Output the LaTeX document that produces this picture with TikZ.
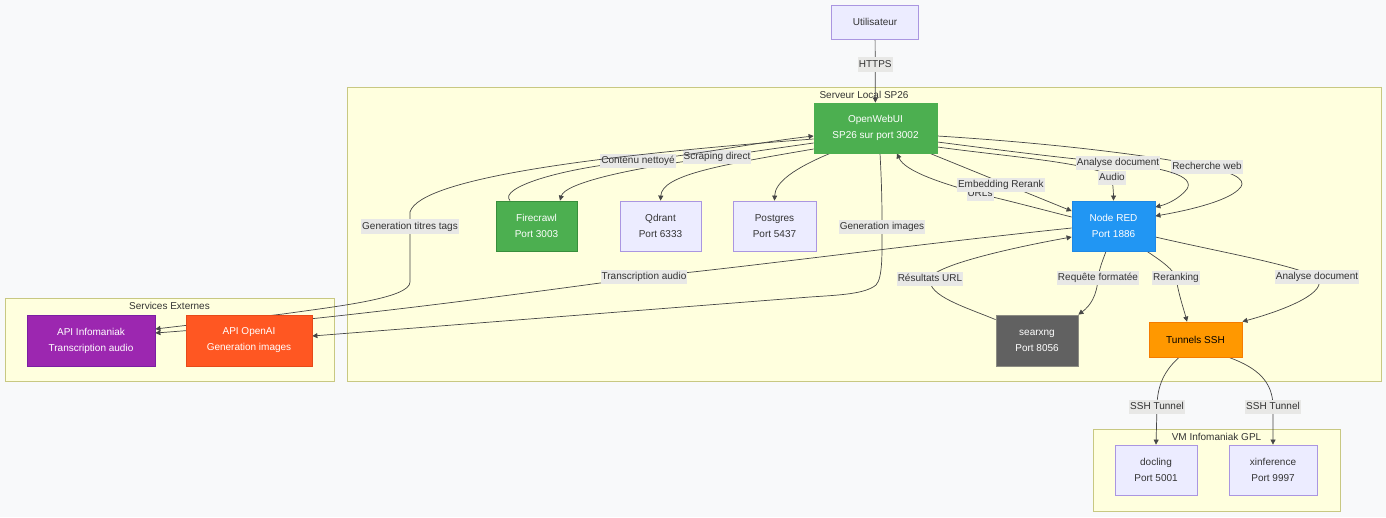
\documentclass[tikz,border=0pt]{standalone}
\usepackage{fontspec}
\setmainfont{Liberation Sans}
\usetikzlibrary{arrows.meta,positioning}
\definecolor{pagebg}{RGB}{248,249,250}
\definecolor{clfill}{RGB}{255,255,222}
\definecolor{cldraw}{RGB}{200,200,130}
\definecolor{dfill}{RGB}{236,236,255}
\definecolor{ddraw}{RGB}{170,150,225}
\definecolor{owgreen}{RGB}{76,175,80}
\definecolor{fcdraw}{RGB}{56,142,60}
\definecolor{nrblue}{RGB}{33,150,243}
\definecolor{nrdraw}{RGB}{30,136,229}
\definecolor{sxgrey}{RGB}{97,97,97}
\definecolor{sxdraw}{RGB}{140,140,130}
\definecolor{sshorange}{RGB}{255,152,0}
\definecolor{sshdraw}{RGB}{245,124,0}
\definecolor{infpurple}{RGB}{156,39,176}
\definecolor{infdraw}{RGB}{123,31,162}
\definecolor{oaired}{RGB}{255,87,34}
\definecolor{oaidraw}{RGB}{230,74,25}
\definecolor{lblfill}{RGB}{232,232,230}
\definecolor{edgecol}{RGB}{70,70,70}
\definecolor{txt}{RGB}{51,51,51}
\pgfdeclarelayer{bg}
\pgfdeclarelayer{edges}
\pgfsetlayers{bg,edges,main}

\begin{document}
\begin{tikzpicture}[
    x=1pt, y=-1pt,
    box/.style={rectangle, draw, line width=0.8pt, align=center, inner sep=0pt,
                font=\fontsize{10}{16}\selectfont},
    plain/.style={box, fill=dfill, draw=ddraw, text=txt},
    owbox/.style={box, fill=owgreen, draw=owgreen, text=white},
    fcbox/.style={box, fill=owgreen, draw=fcdraw, text=white},
    nrbox/.style={box, fill=nrblue, draw=nrdraw, text=white},
    sxbox/.style={box, fill=sxgrey, draw=sxdraw, text=white},
    sshbox/.style={box, fill=sshorange, draw=sshdraw, text=black},
    infbox/.style={box, fill=infpurple, draw=infdraw, text=white},
    oaibox/.style={box, fill=oaired, draw=oaidraw, text=white},
    cluster/.style={rectangle, draw=cldraw, fill=clfill, line width=0.8pt, inner sep=0pt},
    ctitle/.style={font=\fontsize{10}{12}\selectfont, text=txt, inner sep=0pt},
    conn/.style={draw=edgecol, line width=0.7pt, -{Triangle[length=5pt,width=5pt]}},
    elabel/.style={fill=lblfill, text=txt, font=\fontsize{10}{12}\selectfont,
                   inner xsep=1pt, inner ysep=2.5pt, text height=7.5pt, text depth=2pt}
  ]
    \useasboundingbox (0,0) rectangle (1386,517);

    % Clusters
    \begin{pgfonlayer}{bg}
    \fill[pagebg] (0,0) rectangle (1386,517);
    \node[cluster, minimum width=1034pt, minimum height=294pt] (srv) at (864,234) {};
    \node[ctitle, below=4pt of srv.north] {Serveur Local SP26};
    \node[cluster, minimum width=329pt, minimum height=83pt] (ext) at (169.5,339.5) {};
    \node[ctitle, below=4pt of ext.north] {Services Externes};
    \node[cluster, minimum width=247pt, minimum height=82pt] (vm) at (1216.5,470) {};
    \node[ctitle, below=4pt of vm.north] {VM Infomaniak GPL};
    \end{pgfonlayer}

    % Nodes
    \node[plain, minimum width=87pt, minimum height=34pt] (user) at (875,22) {Utilisateur};
    \node[owbox, minimum width=123pt, minimum height=50pt] (ow) at (875.5,128) {OpenWebUI\\SP26 sur port 3002};
    \node[fcbox, minimum width=81pt, minimum height=50pt] (fc) at (536.5,226) {Firecrawl\\Port 3003};
    \node[plain, minimum width=81pt, minimum height=50pt] (qd) at (660.5,226) {Qdrant\\Port 6333};
    \node[plain, minimum width=83pt, minimum height=50pt] (pg) at (774.5,226) {Postgres\\Port 5437};
    \node[nrbox, minimum width=83pt, minimum height=50pt] (nr) at (1113.5,226) {Node RED\\Port 1886};
    \node[sxbox, minimum width=82pt, minimum height=51pt] (sx) at (1037,340.5) {searxng\\Port 8056};
    \node[sshbox, minimum width=93pt, minimum height=35pt] (ssh) at (1195.5,339.5) {Tunnels SSH};
    \node[infbox, minimum width=128pt, minimum height=51pt] (inf) at (91,340.5) {API Infomaniak\\Transcription audio};
    \node[oaibox, minimum width=126pt, minimum height=51pt] (oai) at (249,340.5) {API OpenAI\\Generation images};
    \node[plain, minimum width=82pt, minimum height=50pt] (doc) at (1156,470) {docling\\Port 5001};
    \node[plain, minimum width=88pt, minimum height=50pt] (xin) at (1273,470) {xinference\\Port 9997};

    % Connectors
    \begin{pgfonlayer}{edges}
    \draw[conn] (user) -- node[elabel, pos=0.4] {HTTPS} (ow);

    % OpenWebUI <-> local services
    \draw[conn] ([yshift=-21pt]ow.west) .. controls (720,165) and (662,175) .. (qd.north);
    \draw[conn] ([xshift=-45.5pt]ow.south) .. controls (795,168) and (775,182) .. (pg.north);
    \draw[conn] ([yshift=-15pt]ow.west) .. controls (785,147) and (750,152) .. (717,157)
      node[elabel] {Scraping direct} .. controls (630,168) and (565,183) .. ([xshift=23.5pt]fc.north);
    \draw[conn] ([xshift=-26.5pt]fc.north) .. controls (498,188) and (560,168) .. (638,161)
      node[elabel] {Contenu nettoyé} .. controls (700,154) and (760,142) .. ([yshift=-8pt]ow.west);

    % OpenWebUI -> external services
    \draw[conn] ([yshift=-11pt]ow.west) .. controls (600,155) and (420,178) .. (410,212)
      -- node[elabel, pos=0.21] {Generation titres tags} (410,282)
      .. controls (410,298) and (340,306) .. (283,314) -- ([yshift=11.5pt]inf.east);
    \draw[conn] ([xshift=4.5pt]ow.south) .. controls (882,190) and (882,210) .. (882,227)
      node[elabel] {Generation images} .. controls (882,250) and (883,278) .. (876,285)
      .. controls (865,294) and (840,295) .. (810,297) -- ([yshift=4.5pt]oai.east);
    \draw[conn] ([yshift=-2pt]nr.west) .. controls (900,246) and (740,268) .. (644,277)
      node[elabel] {Transcription audio} .. controls (520,294) and (330,320) .. ([yshift=7.5pt]inf.east);

    % OpenWebUI <-> Node RED
    \draw[conn] ([yshift=9pt]nr.west) .. controls (1040,209) and (1010,201) .. (980,194)
      node[elabel] {URLs} .. controls (945,184) and (905,172) .. ([xshift=21.5pt]ow.south);
    \draw[conn] ([xshift=54.5pt]ow.south) -- node[elabel, pos=0.5, yshift=-3pt] {Embedding Rerank} ([yshift=15pt]nr.west);
    \draw[conn] ([yshift=-19pt]ow.east) .. controls (1010,157) and (1098,163) .. (1112,178)
      node[elabel] {Audio} .. controls (1113,186) and (1113.5,194) .. (nr.north);
    \draw[conn] ([yshift=-8pt]ow.east) .. controls (1050,143) and (1150,155) .. (1207,167)
      node[elabel] {Recherche web} .. controls (1240,174) and (1248,182) .. (1238,190)
      .. controls (1225,202) and (1185,211) .. ([yshift=10pt]nr.east);
    \draw[conn] ([yshift=-14pt]ow.east) .. controls (1000,150) and (1060,158) .. (1118,163)
      node[elabel] {Analyse document} .. controls (1165,168) and (1195,176) .. (1187,189)
      .. controls (1180,198) and (1168,204) .. ([yshift=19pt]nr.east);

    % Node RED <-> searxng / tunnels
    \draw[conn] ([yshift=-5pt]sx.north west) .. controls (965,307) and (928,296) .. (930,279)
      node[elabel] {Résultats URL} .. controls (932,266) and (1010,248) .. ([yshift=-11pt]nr.west);
    \draw[conn] ([xshift=-7.5pt]nr.south) .. controls (1102,262) and (1099,270) .. (1098,278)
      node[elabel] {Requête formatée} .. controls (1097,296) and (1090,306) .. (sx.north east);
    \draw[conn] ([xshift=33.5pt]nr.south) .. controls (1163,262) and (1174,270) .. (1176,278)
      node[elabel] {Reranking} .. controls (1179,296) and (1184,310) .. ([xshift=-8.5pt]ssh.north);
    \draw[conn] ([yshift=-11pt]nr.east) .. controls (1220,252) and (1290,264) .. (1317,277)
      node[elabel] {Analyse document} .. controls (1330,292) and (1285,310) .. (ssh.north east);

    % Tunnels -> GPU VM
    \draw[conn] ([xshift=-16.5pt]ssh.south) .. controls (1165,370) and (1157,385) .. (1157,407)
      node[elabel] {SSH Tunnel} -- (doc.north);
    \draw[conn] ([xshift=33.5pt]ssh.south) .. controls (1258,368) and (1273,382) .. (1273,407)
      node[elabel] {SSH Tunnel} -- (xin.north);
    \end{pgfonlayer}
  \end{tikzpicture}
\end{document}
